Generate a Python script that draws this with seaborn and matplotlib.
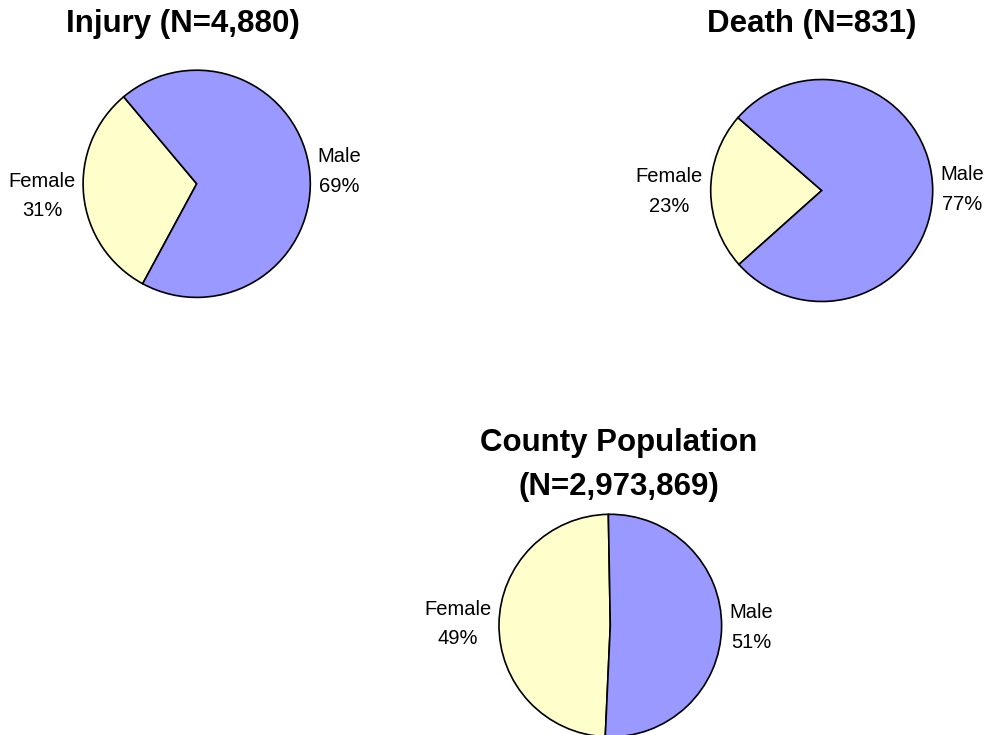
import matplotlib
matplotlib.use("Agg")
import matplotlib.pyplot as plt
import seaborn as sns

# chart data
titles = ["Injury (N=4,880)", "Death (N=831)", "County Population\n(N=2,973,869)"]
categories = ["Female", "Male"]
female_pct = [31, 23, 49]
male_pct = [69, 77, 51]

# layout in pixels: (center x, center y from top, radius), start angle of female slice
W, H = 989, 735
pie_boxes = [(196.7, 183.8, 113.6), (821.7, 190.5, 111.0), (610.3, 625.6, 111.3)]
start_angles = [130, 139, 91]
title_pos = [(183, 24), (812, 24), (619, 465)]

sns.set_theme(style="white")
plt.rcParams["font.family"] = ["Liberation Sans", "DejaVu Sans"]
colors = sns.color_palette(["#FFFFCC", "#9999FF"])

fig = plt.figure(figsize=(W / 100, H / 100), dpi=100)
fig.patch.set_facecolor("white")

for i in range(len(titles)):
    cx, cy, r = pie_boxes[i]
    ax = fig.add_axes([(cx - r) / W, (H - cy - r) / H, 2 * r / W, 2 * r / H])
    values = [female_pct[i], male_pct[i]]
    labels = ["%s\n%d%%" % (c, v) for c, v in zip(categories, values)]
    wedges, texts = ax.pie(
        values,
        labels=labels,
        colors=colors,
        startangle=start_angles[i],
        counterclock=True,
        labeldistance=1.07,
        radius=1,
        wedgeprops={"edgecolor": "black", "linewidth": 1.2},
        textprops={"fontsize": 14.5, "color": "black", "linespacing": 1.7},
    )
    for t in texts:
        t.set_multialignment("center")
    ax.set_xlim(-1, 1)
    ax.set_ylim(-1, 1)
    ax.set_aspect("equal")
    ax.axis("off")

    tx, ty = title_pos[i]
    fig.text(tx / W, 1 - ty / H, titles[i], ha="center", va="center",
             fontsize=22.5, fontweight="bold", color="black", linespacing=1.6)

fig.savefig("out.png", dpi=100)
